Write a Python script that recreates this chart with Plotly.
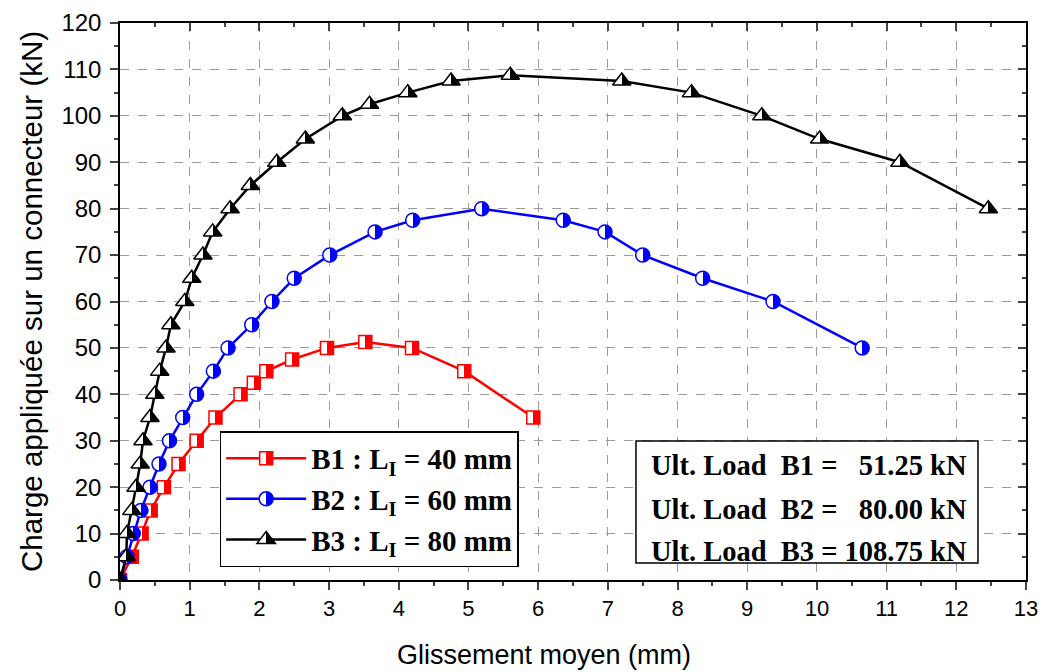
import plotly.graph_objects as go

# ---- data ----
b1_x = [0, 0.17, 0.31, 0.44, 0.63, 0.84, 1.1, 1.37, 1.73, 1.92, 2.1, 2.47, 2.97, 3.52, 4.19, 4.94, 5.93]
b1_y = [0, 5, 10, 15, 20, 25, 30, 35, 40, 42.5, 45, 47.5, 50, 51.25, 50, 45, 35]

b2_x = [0, 0.1, 0.19, 0.3, 0.43, 0.56, 0.71, 0.9, 1.1, 1.34, 1.55, 1.89, 2.18, 2.5, 3.01, 3.66, 4.2,
        5.19, 6.36, 6.96, 7.5, 8.36, 9.37, 10.65]
b2_y = [0, 5, 10, 15, 20, 25, 30, 35, 40, 45, 50, 55, 60, 65, 70, 75, 77.5, 80, 77.5, 75, 70, 65, 60, 50]

b3_x = [0, 0.09, 0.1, 0.17, 0.23, 0.29, 0.33, 0.43, 0.5, 0.57, 0.66, 0.73, 0.93, 1.03, 1.19, 1.33, 1.58,
        1.87, 2.25, 2.66, 3.19, 3.58, 4.13, 4.75, 5.6, 7.2, 8.2, 9.21, 10.04, 11.19, 12.46]
b3_y = [0, 5, 10, 15, 20, 25, 30, 35, 40, 45, 50, 55, 60, 65, 70, 75, 80, 85, 90, 95, 100, 102.5, 105,
        107.5, 108.75, 107.5, 105, 100, 95, 90, 80]

series_names = ["<b>B1 : L<sub>I</sub> = 40 mm</b>", "<b>B2 : L<sub>I</sub> = 60 mm</b>",
                "<b>B3 : L<sub>I</sub> = 80 mm</b>"]
series_colors = ["#ff0000", "#0000ff", "#000000"]
series_symbols = ["square", "circle", "triangle-up"]
series_sizes = [13, 14, 16]

ult_lines = ["Ult. Load\u00a0\u00a0B1 =\u00a0\u00a0\u00a051.25 kN",
             "Ult. Load\u00a0\u00a0B2 =\u00a0\u00a0\u00a080.00 kN",
             "Ult. Load\u00a0\u00a0B3 = 108.75 kN"]

x_title = "Glissement moyen (mm)"
y_title = "Charge appliquée sur un connecteur (kN)"

x_range = [0, 13]
y_range = [0, 120]

SERIF = "Liberation Serif, Times New Roman, serif"
SANS = "Liberation Sans, Arial, sans-serif"

fig = go.Figure()
for xs, ys, name, col, sym, sz in zip([b1_x, b2_x, b3_x], [b1_y, b2_y, b3_y], series_names,
                                      series_colors, series_symbols, series_sizes):
    fig.add_trace(go.Scatter(
        x=xs, y=ys, name=name, mode="lines+markers",
        line=dict(color=col, width=2.5),
        marker=dict(symbol=sym, size=sz, color="white",
                    gradient=dict(type="horizontal", color=col),
                    line=dict(color=col, width=1.5)),
        legendgroup=name,
    ))

# invisible trace for the mirrored (top/right) axes
fig.add_trace(go.Scatter(x=[0], y=[0], xaxis="x2", yaxis="y2", mode="markers",
                         marker=dict(opacity=0), showlegend=False, hoverinfo="skip"))

grid = dict(showgrid=True, gridcolor="#9a9a9a", griddash="dash", gridwidth=1.3)
fig.update_layout(
    width=1046, height=672,
    paper_bgcolor="white", plot_bgcolor="white",
    margin=dict(l=120, r=20, t=23, b=92, autoexpand=False),
    font=dict(family=SANS, color="black"),
    xaxis=dict(range=x_range, dtick=1, tick0=0, ticks="outside", ticklen=8, tickwidth=1.5,
               showline=True, linecolor="black", linewidth=1.5, zeroline=False, automargin=False,
               tickfont=dict(size=22, family=SANS), ticklabeloverflow="allow",
               minor=dict(dtick=0.5, ticks="outside", ticklen=4, tickwidth=1.5, showgrid=False),
               **grid),
    yaxis=dict(range=y_range, dtick=10, tick0=0, ticks="outside", ticklen=8, tickwidth=1.5,
               showline=True, linecolor="black", linewidth=1.5, zeroline=False, automargin=False,
               tickfont=dict(size=24, family=SANS), ticklabelstandoff=4,
               minor=dict(dtick=5, ticks="outside", ticklen=4, tickwidth=1.5, showgrid=False),
               title=dict(text=y_title, font=dict(size=29.5, family=SANS), standoff=10),
               **grid),
    xaxis2=dict(range=x_range, overlaying="x", side="top", anchor="y", dtick=1, tick0=0,
                ticks="inside", ticklen=8, tickwidth=1.5, showticklabels=False, showgrid=False,
                showline=True, linecolor="black", linewidth=1.5, zeroline=False, automargin=False,
                minor=dict(dtick=0.5, ticks="inside", ticklen=4, tickwidth=1.5, showgrid=False)),
    yaxis2=dict(range=y_range, overlaying="y", side="right", anchor="x", dtick=10, tick0=0,
                ticks="inside", ticklen=8, tickwidth=1.5, showticklabels=False, showgrid=False,
                showline=True, linecolor="black", linewidth=1.5, zeroline=False, automargin=False,
                minor=dict(dtick=5, ticks="inside", ticklen=4, tickwidth=1.5, showgrid=False)),
    legend=dict(x=0.110, y=0.267, xanchor="left", yanchor="top",
                bgcolor="white", bordercolor="black", borderwidth=1.5,
                font=dict(family=SERIF, size=29, color="black"),
                itemwidth=80, tracegroupgap=15, traceorder="normal"),
    showlegend=True,
)

# x-axis title (slightly left of centre in the reference)
fig.add_annotation(text=x_title, xref="paper", yref="paper", x=0.468, y=-0.135,
                   xanchor="center", yanchor="middle", showarrow=False,
                   font=dict(family=SANS, size=27, color="black"))

# Ultimate-load box
fig.add_shape(type="rect", xref="paper", yref="paper", x0=0.5695, x1=0.947, y0=0.0305, y1=0.2496,
              line=dict(color="black", width=1.5), fillcolor="white", layer="above")
for txt, yy in zip(ult_lines, [0.2047, 0.1257, 0.0503]):
    fig.add_annotation(text="<b>" + txt + "</b>", xref="paper", yref="paper", x=0.7605, y=yy,
                       xanchor="center", yanchor="middle", showarrow=False,
                       font=dict(family=SERIF, size=28.5, color="black"))

post = """
(function(){
  document.documentElement.style.overflow = 'hidden';
  document.body.style.margin = '0';
  document.body.style.overflow = 'hidden';
  function sharpen(){
    document.querySelectorAll('linearGradient').forEach(function(g){
      if (g.getAttribute('data-sharp')) return;
      var s = g.querySelectorAll('stop');
      if (s.length !== 2) return;
      var a = s[0].cloneNode(true); a.setAttribute('offset', '50%');
      var b = s[1].cloneNode(true); b.setAttribute('offset', '50%');
      g.insertBefore(a, s[1]); g.insertBefore(b, s[1]);
      g.setAttribute('data-sharp', '1');
    });
  }
  sharpen();
  setTimeout(sharpen, 0); setTimeout(sharpen, 200);
  var gd = document.getElementById('{plot_id}');
  if (gd && gd.on) gd.on('plotly_afterplot', function(){ setTimeout(sharpen, 0); });
})();
"""
fig.write_html("out.html", post_script=post, config={"displayModeBar": False})
